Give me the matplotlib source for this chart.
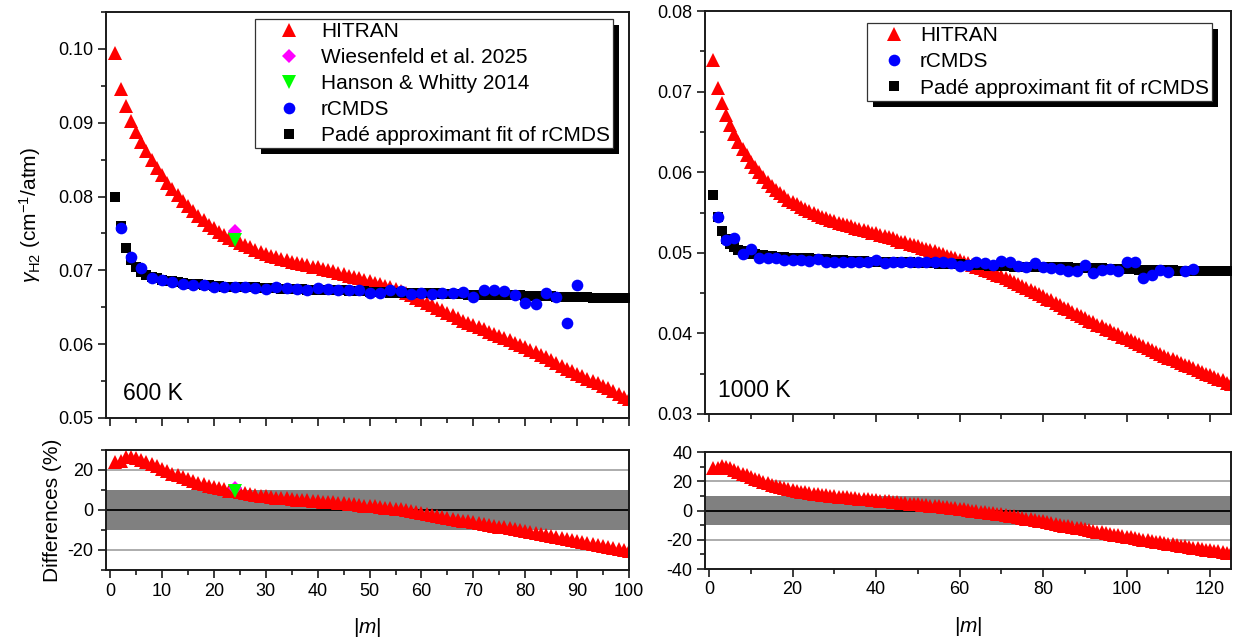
import numpy as np
import matplotlib
matplotlib.use("Agg")
import matplotlib.pyplot as plt
from matplotlib.patches import Rectangle
from matplotlib.ticker import MultipleLocator, FormatStrFormatter

plt.rcParams['font.family'] = ['Liberation Sans', 'DejaVu Sans']
plt.rcParams['mathtext.fontset'] = 'custom'
plt.rcParams['mathtext.rm'] = 'Liberation Sans'
plt.rcParams['mathtext.it'] = 'Liberation Sans:italic'
plt.rcParams['axes.unicode_minus'] = False

# ---------------- data : 600 K ----------------
m_600 = list(range(1, 101))
hitran_600 = [0.0994, 0.0946, 0.0922, 0.0903, 0.0888, 0.0874, 0.0862, 0.0850, 0.0839, 0.0829,
              0.0819, 0.0810, 0.0802, 0.0794, 0.0787, 0.0780, 0.0774, 0.0768, 0.0762, 0.0757,
              0.0752, 0.0748, 0.0744, 0.0741, 0.0737, 0.0734, 0.0731, 0.0728, 0.0725, 0.0722,
              0.0720, 0.0718, 0.0716, 0.0714, 0.0712, 0.0710, 0.0709, 0.0707, 0.0705, 0.0704,
              0.0702, 0.0700, 0.0699, 0.0697, 0.0695, 0.0693, 0.0691, 0.0689, 0.0687, 0.0686,
              0.0683, 0.0681, 0.0679, 0.0677, 0.0675, 0.0672, 0.0669, 0.0666, 0.0663, 0.0660,
              0.0656, 0.0653, 0.0649, 0.0646, 0.0642, 0.0639, 0.0636, 0.0632, 0.0629, 0.0626,
              0.0623, 0.0620, 0.0617, 0.0614, 0.0611, 0.0608, 0.0605, 0.0602, 0.0599, 0.0596,
              0.0592, 0.0589, 0.0585, 0.0582, 0.0578, 0.0574, 0.0571, 0.0567, 0.0564, 0.0560,
              0.0557, 0.0553, 0.0550, 0.0547, 0.0543, 0.0540, 0.0536, 0.0533, 0.0529, 0.0526]
pade_600 = [0.0800, 0.0760, 0.0730, 0.0714, 0.0704, 0.0698, 0.0694, 0.0691, 0.0689, 0.0687,
            0.0686, 0.0685, 0.0684, 0.0683, 0.0682, 0.0681, 0.0681, 0.0680, 0.0680, 0.0679,
            0.0679, 0.0678, 0.0678, 0.0678, 0.0677, 0.0677, 0.0677, 0.0677, 0.0676, 0.0676,
            0.0676, 0.0676, 0.0675, 0.0675, 0.0675, 0.0675, 0.0675, 0.0674, 0.0674, 0.0674,
            0.0674, 0.0673, 0.0673, 0.0673, 0.0673, 0.0672, 0.0672, 0.0672, 0.0672, 0.0671,
            0.0671, 0.0671, 0.0671, 0.0670, 0.0670, 0.0670, 0.0670, 0.0670, 0.0669, 0.0669,
            0.0669, 0.0669, 0.0669, 0.0668, 0.0668, 0.0668, 0.0668, 0.0668, 0.0667, 0.0667,
            0.0667, 0.0667, 0.0667, 0.0666, 0.0666, 0.0666, 0.0666, 0.0666, 0.0666, 0.0665,
            0.0665, 0.0665, 0.0665, 0.0665, 0.0665, 0.0664, 0.0664, 0.0664, 0.0664, 0.0664,
            0.0664, 0.0664, 0.0663, 0.0663, 0.0663, 0.0663, 0.0663, 0.0663, 0.0663, 0.0663]
m_rcmds_600 = list(range(2, 91, 2))
rcmds_600 = [0.0758, 0.0718, 0.0703, 0.0689, 0.0687, 0.0684, 0.0682, 0.0680, 0.0680, 0.0678,
             0.0678, 0.0677, 0.0677, 0.0676, 0.0675, 0.0677, 0.0676, 0.0675, 0.0674, 0.0676,
             0.0675, 0.0673, 0.0673, 0.0673, 0.0669, 0.0670, 0.0673, 0.0672, 0.0668, 0.0669,
             0.0668, 0.0670, 0.0670, 0.0671, 0.0664, 0.0674, 0.0673, 0.0672, 0.0667, 0.0656,
             0.0655, 0.0669, 0.0664, 0.0629, 0.0680]
m_wiesenfeld = [24]
wiesenfeld = [0.0754]
m_hanson = [24]
hanson = [0.0741]

# ---------------- data : 1000 K ----------------
m_1000 = list(range(1, 126))
hitran_1000 = [0.0739, 0.0704, 0.0686, 0.0671, 0.0659, 0.0648, 0.0638, 0.0629, 0.0621, 0.0613,
               0.0606, 0.0600, 0.0594, 0.0588, 0.0583, 0.0578, 0.0574, 0.0570, 0.0566, 0.0563,
               0.0560, 0.0557, 0.0554, 0.0552, 0.0549, 0.0547, 0.0545, 0.0543, 0.0541, 0.0539,
               0.0537, 0.0536, 0.0534, 0.0533, 0.0531, 0.0530, 0.0528, 0.0527, 0.0525, 0.0524,
               0.0522, 0.0521, 0.0519, 0.0518, 0.0516, 0.0514, 0.0513, 0.0511, 0.0510, 0.0508,
               0.0506, 0.0505, 0.0503, 0.0502, 0.0500, 0.0498, 0.0496, 0.0495, 0.0493, 0.0491,
               0.0489, 0.0487, 0.0485, 0.0483, 0.0481, 0.0479, 0.0477, 0.0475, 0.0473, 0.0471,
               0.0469, 0.0466, 0.0464, 0.0461, 0.0459, 0.0456, 0.0454, 0.0451, 0.0449, 0.0446,
               0.0443, 0.0441, 0.0438, 0.0435, 0.0432, 0.0430, 0.0427, 0.0424, 0.0422, 0.0419,
               0.0416, 0.0414, 0.0411, 0.0409, 0.0406, 0.0404, 0.0401, 0.0399, 0.0396, 0.0394,
               0.0392, 0.0389, 0.0387, 0.0384, 0.0382, 0.0380, 0.0377, 0.0375, 0.0372, 0.0370,
               0.0368, 0.0366, 0.0363, 0.0361, 0.0359, 0.0357, 0.0355, 0.0352, 0.0350, 0.0348,
               0.0346, 0.0344, 0.0342, 0.0339, 0.0337]
pade_1000 = [0.0572, 0.0545, 0.0527, 0.0517, 0.0511, 0.0507, 0.0504, 0.0502, 0.0500, 0.0499,
             0.0498, 0.0497, 0.0497, 0.0496, 0.0496, 0.0495, 0.0495, 0.0495, 0.0494, 0.0494,
             0.0494, 0.0493, 0.0493, 0.0493, 0.0492, 0.0492, 0.0492, 0.0492, 0.0491, 0.0491,
             0.0491, 0.0491, 0.0490, 0.0490, 0.0490, 0.0490, 0.0490, 0.0489, 0.0489, 0.0489,
             0.0489, 0.0489, 0.0488, 0.0488, 0.0488, 0.0488, 0.0488, 0.0488, 0.0487, 0.0487,
             0.0487, 0.0487, 0.0487, 0.0487, 0.0486, 0.0486, 0.0486, 0.0486, 0.0486, 0.0486,
             0.0485, 0.0485, 0.0485, 0.0485, 0.0485, 0.0485, 0.0484, 0.0484, 0.0484, 0.0484,
             0.0484, 0.0484, 0.0483, 0.0483, 0.0483, 0.0483, 0.0483, 0.0483, 0.0483, 0.0482,
             0.0482, 0.0482, 0.0482, 0.0482, 0.0482, 0.0482, 0.0481, 0.0481, 0.0481, 0.0481,
             0.0481, 0.0481, 0.0481, 0.0481, 0.0480, 0.0480, 0.0480, 0.0480, 0.0480, 0.0480,
             0.0480, 0.0480, 0.0479, 0.0479, 0.0479, 0.0479, 0.0479, 0.0479, 0.0479, 0.0479,
             0.0479, 0.0478, 0.0478, 0.0478, 0.0478, 0.0478, 0.0478, 0.0478, 0.0478, 0.0478,
             0.0477, 0.0477, 0.0477, 0.0477, 0.0477]
m_rcmds_1000 = list(range(2, 111, 2)) + [114, 116]
rcmds_1000 = [0.0544, 0.0516, 0.0518, 0.0498, 0.0505, 0.0494, 0.0494, 0.0493, 0.0491, 0.0491,
              0.0491, 0.0490, 0.0492, 0.0488, 0.0488, 0.0488, 0.0488, 0.0489, 0.0489, 0.0491,
              0.0487, 0.0488, 0.0488, 0.0489, 0.0489, 0.0488, 0.0488, 0.0489, 0.0487, 0.0484,
              0.0485, 0.0489, 0.0487, 0.0485, 0.0490, 0.0489, 0.0484, 0.0483, 0.0487, 0.0482,
              0.0481, 0.0480, 0.0477, 0.0478, 0.0485, 0.0475, 0.0479, 0.0480, 0.0478, 0.0489,
              0.0488, 0.0469, 0.0473, 0.0479, 0.0476, 0.0477, 0.0480]

RED, BLUE, MAG, GRN = '#FF0000', '#0000FF', '#FF00FF', '#00FF00'
W, H = 1233, 642
fig = plt.figure(figsize=(W / 100, H / 100), dpi=100)


def box(l, r, t, b):
    return [l / W, 1 - b / H, (r - l) / W, (b - t) / H]


ax1 = fig.add_axes(box(106, 629, 12, 418))
ax2 = fig.add_axes(box(106, 629, 450, 570))
ax3 = fig.add_axes(box(705, 1231, 11, 414))
ax4 = fig.add_axes(box(705, 1231, 452, 569))

TRI, CIRC, SQ, DIA = 9.8, 8.4, 7.3, 7.6
LEGFS = 15


def style(ax, xmaj, xmin, ymaj, ymin, labelx):
    for s in ax.spines.values():
        s.set_linewidth(1.4)
        s.set_color('#1a1a1a')
    ax.xaxis.set_major_locator(MultipleLocator(xmaj))
    ax.xaxis.set_minor_locator(MultipleLocator(xmin))
    ax.yaxis.set_major_locator(MultipleLocator(ymaj))
    ax.yaxis.set_minor_locator(MultipleLocator(ymin))
    ax.tick_params(which='both', direction='out', top=False, right=False,
                   width=1.2, color='#1a1a1a', labelsize=13)
    ax.tick_params(which='major', length=6, pad=3)
    ax.tick_params(which='minor', length=3.5)
    ax.tick_params(axis='x', labelbottom=labelx)


def add_shadow(ax, leg, dx=6, dy=6):
    fig.canvas.draw()
    bb = leg.get_window_extent()
    inv = ax.transAxes.inverted()
    x0, y0 = inv.transform((bb.x0 + dx, bb.y0 - dy))
    x1, y1 = inv.transform((bb.x1 + dx, bb.y1 - dy))
    ax.add_patch(Rectangle((x0, y0), x1 - x0, y1 - y0, transform=ax.transAxes,
                           facecolor='black', edgecolor='none', zorder=4.9, clip_on=False))


def make_legend(ax, anchor, hlen):
    leg = ax.legend(loc='upper right', bbox_to_anchor=anchor, fontsize=LEGFS,
                    frameon=True, fancybox=False, framealpha=1, edgecolor='#333333',
                    borderpad=0.15, labelspacing=0.34, handlelength=hlen, handletextpad=0.1,
                    borderaxespad=0, numpoints=1)
    leg.get_frame().set_linewidth(0.9)
    leg.set_zorder(5)
    return leg


# ---------- top left ----------
ax1.plot(m_600, hitran_600, ls='none', marker='^', ms=TRI, mew=0, color=RED, label='HITRAN', zorder=2)
ax1.plot(m_wiesenfeld, wiesenfeld, ls='none', marker='D', ms=DIA, mew=0, color=MAG,
         label='Wiesenfeld et al. 2025', zorder=5)
ax1.plot(m_hanson, hanson, ls='none', marker='v', ms=TRI, mew=0, color=GRN,
         label='Hanson & Whitty 2014', zorder=5)
ax1.plot(m_rcmds_600, rcmds_600, ls='none', marker='o', ms=CIRC, mew=0, color=BLUE, label='rCMDS', zorder=4)
ax1.plot(m_600, pade_600, ls='none', marker='s', ms=SQ, mew=0, color='black',
         label='Padé approximant fit of rCMDS', zorder=3)
ax1.set_xlim(-0.8, 100)
ax1.set_ylim(0.05, 0.105)
style(ax1, 10, 5, 0.01, 0.005, False)
ax1.yaxis.set_major_formatter(FormatStrFormatter('%.2f'))
ax1.set_ylabel(r'$\gamma_{\mathrm{H2}}$ (cm$^{-1}$/atm)', fontsize=15, labelpad=11)
ax1.text(0.032, 0.045, '600 K', transform=ax1.transAxes, fontsize=16.5, va='baseline')
leg1 = make_legend(ax1, (0.9694, 0.983), 2.9)

# ---------- bottom left ----------
diff_600 = [100 * (h - p) / p for h, p in zip(hitran_600, pade_600)]
pade_at_24 = pade_600[m_600.index(24)]
diff_w = [100 * (v - pade_at_24) / pade_at_24 for v in wiesenfeld]
diff_h = [100 * (v - pade_at_24) / pade_at_24 for v in hanson]
ax2.axhspan(-10, 10, color='#808080', lw=0, zorder=0.5)
ax2.axhline(20, color='#a6a6a6', lw=1.3, zorder=0.6)
ax2.axhline(-20, color='#a6a6a6', lw=1.3, zorder=0.6)
ax2.axhline(0, color='black', lw=1.3, zorder=0.7)
ax2.plot(m_600, diff_600, ls='none', marker='^', ms=TRI, mew=0, color=RED, zorder=2)
ax2.plot(m_wiesenfeld, diff_w, ls='none', marker='D', ms=DIA, mew=0, color=MAG, zorder=5)
ax2.plot(m_hanson, diff_h, ls='none', marker='v', ms=TRI, mew=0, color=GRN, zorder=5)
ax2.set_xlim(-0.8, 100)
ax2.set_ylim(-30, 30)
style(ax2, 10, 5, 20, 10, True)
ax2.set_ylabel('Differences (%)', fontsize=15, labelpad=4)
ax2.set_xlabel(r'|$m$|', fontsize=15, labelpad=12)

# ---------- top right ----------
ax3.plot(m_1000, hitran_1000, ls='none', marker='^', ms=TRI, mew=0, color=RED, label='HITRAN', zorder=2)
ax3.plot(m_rcmds_1000, rcmds_1000, ls='none', marker='o', ms=CIRC, mew=0, color=BLUE, label='rCMDS', zorder=4)
ax3.plot(m_1000, pade_1000, ls='none', marker='s', ms=SQ, mew=0, color='black',
         label='Padé approximant fit of rCMDS', zorder=3)
ax3.set_xlim(-1, 125)
ax3.set_ylim(0.03, 0.08)
style(ax3, 20, 10, 0.01, 0.005, False)
ax3.yaxis.set_major_formatter(FormatStrFormatter('%.2f'))
ax3.text(0.025, 0.042, '1000 K', transform=ax3.transAxes, fontsize=16.5, va='baseline')
leg3 = make_legend(ax3, (0.9639, 0.9695), 2.3)

# ---------- bottom right ----------
diff_1000 = [100 * (h - p) / p for h, p in zip(hitran_1000, pade_1000)]
ax4.axhspan(-10, 10, color='#808080', lw=0, zorder=0.5)
ax4.axhline(20, color='#a6a6a6', lw=1.3, zorder=0.6)
ax4.axhline(-20, color='#a6a6a6', lw=1.3, zorder=0.6)
ax4.axhline(0, color='black', lw=1.3, zorder=0.7)
ax4.plot(m_1000, diff_1000, ls='none', marker='^', ms=TRI, mew=0, color=RED, zorder=2)
ax4.set_xlim(-1, 125)
ax4.set_ylim(-40, 40)
style(ax4, 20, 10, 20, 10, True)
ax4.set_xlabel(r'|$m$|', fontsize=15, labelpad=12)

add_shadow(ax1, leg1)
add_shadow(ax3, leg3)

fig.savefig('out.png', dpi=100)
